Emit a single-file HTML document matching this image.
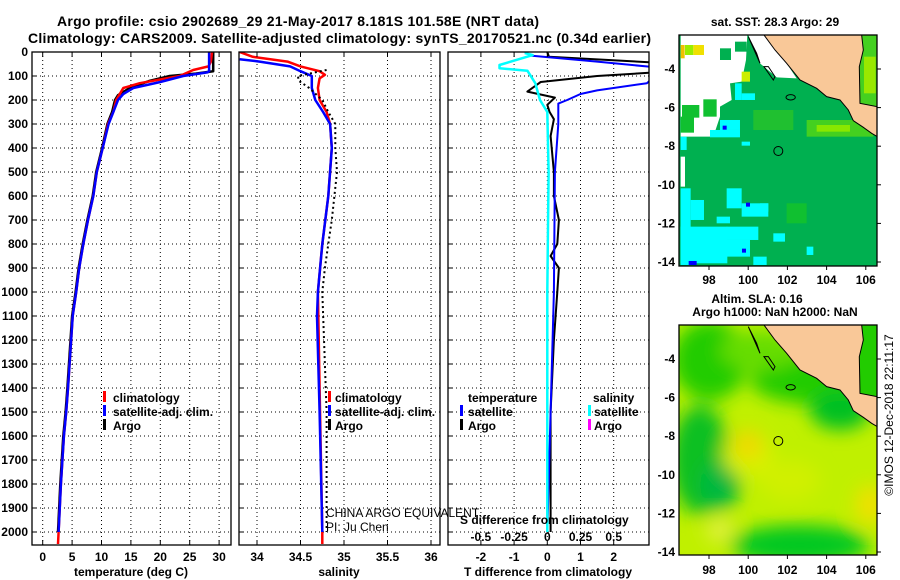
<!DOCTYPE html>
<html><head><meta charset="utf-8">
<style>
html,body{margin:0;padding:0;background:#fff;}
svg{display:block;font-family:"Liberation Sans",Arial,sans-serif;}
.t{font-weight:bold;font-size:12px;fill:#000;}
.ttl{font-weight:bold;font-size:14px;fill:#000;}
</style></head>
<body>
<svg id="fig" width="900" height="580" viewBox="0 0 900 580" xmlns="http://www.w3.org/2000/svg">
<defs>
<clipPath id="c1"><rect x="32" y="52" width="199" height="493"/></clipPath>
<clipPath id="c2"><rect x="239" y="52" width="201" height="493"/></clipPath>
<clipPath id="c3"><rect x="448" y="52" width="201" height="493"/></clipPath>
<clipPath id="cm1"><rect x="679" y="35" width="198" height="231"/></clipPath>
<clipPath id="cm2"><rect x="679" y="325" width="198" height="230"/></clipPath>
<filter id="blur" x="-50%" y="-50%" width="200%" height="200%"><feGaussianBlur stdDeviation="9"/></filter>
</defs>
<text class="ttl" x="57" y="26" textLength="482">Argo profile: csio 2902689_29 21-May-2017 8.181S 101.58E (NRT data)</text>
<text class="ttl" x="28" y="43" textLength="623">Climatology: CARS2009. Satellite-adjusted climatology: synTS_20170521.nc (0.34d earlier)</text>

<g id="grid"></g>
<g id="series"></g>
<g id="axes"></g>

<!-- legends -->
<g>
<rect x="103" y="391" width="3" height="11" fill="#f00"/>
<text class="t" x="113" y="402">climatology</text>
<rect x="103" y="405" width="3" height="11" fill="#00f"/>
<text class="t" x="113" y="416">satellite-adj. clim.</text>
<rect x="103" y="419" width="3" height="11" fill="#000"/>
<text class="t" x="113" y="430">Argo</text>
</g>
<g>
<rect x="328" y="391" width="3" height="11" fill="#f00"/>
<text class="t" x="335" y="402">climatology</text>
<rect x="328" y="405" width="3" height="11" fill="#00f"/>
<text class="t" x="335" y="416">satellite-adj. clim.</text>
<rect x="328" y="419" width="3" height="11" fill="#000"/>
<text class="t" x="335" y="430">Argo</text>
</g>
<g>
<text class="t" x="468" y="402">temperature</text>
<rect x="460" y="405" width="3" height="11" fill="#00f"/>
<text class="t" x="468" y="416">satellite</text>
<rect x="460" y="419" width="3" height="11" fill="#000"/>
<text class="t" x="468" y="430">Argo</text>
<text class="t" x="593" y="402">salinity</text>
<rect x="588" y="405" width="3" height="11" fill="#0ff"/>
<text class="t" x="594" y="416">satellite</text>
<rect x="588" y="419" width="3" height="11" fill="#f0f"/>
<text class="t" x="594" y="430">Argo</text>
</g>
<text x="326" y="517" font-size="12" fill="#000">CHINA ARGO EQUIVALENT</text>
<text x="326" y="531" font-size="12" fill="#000">PI: Ju Chen</text>
<text class="t" x="460" y="524">S difference from climatology</text>

<text class="t" x="131" y="576" text-anchor="middle">temperature (deg C)</text>
<text class="t" x="339" y="576" text-anchor="middle">salinity</text>
<text class="t" x="548" y="576" text-anchor="middle">T difference from climatology</text>

<!-- MAP 1: SST -->
<g>
<text class="t" x="775" y="26" text-anchor="middle">sat. SST: 28.3 Argo: 29</text>
<g clip-path="url(#cm1)">
<g transform="translate(660,0) scale(0.3333)">
<rect x="58" y="105" width="594" height="692" fill="#00b050"/>
<polygon fill="#fff" points="62,105 262,105 258,180 245,245 210,250 215,300 180,320 180,350 160,410 62,410"/>
<polygon fill="#fff" points="62,470 75,470 75,560 62,560"/>
<rect x="180" y="145" width="33" height="35" fill="#00b050"/>
<rect x="225" y="125" width="35" height="30" fill="#00b050"/>
<rect x="130" y="298" width="40" height="52" fill="#10c030"/>
<rect x="66" y="315" width="52" height="38" fill="#10c030"/>
<rect x="62" y="350" width="40" height="48" fill="#10c030"/>
<rect x="62" y="135" width="12" height="40" fill="#f0c000"/>
<rect x="75" y="135" width="25" height="30" fill="#99ee00"/>
<rect x="100" y="135" width="32" height="30" fill="#f0e000"/>
<rect x="245" y="215" width="25" height="30" fill="#ccee00"/>
<polygon fill="#fff" points="265,105 312,105 360,160 410,235 350,232 300,190"/>
<rect x="440" y="360" width="200" height="50" fill="#44d020"/>
<rect x="470" y="375" width="100" height="20" fill="#88e800"/>
<rect x="280" y="330" width="120" height="60" fill="#20c030"/>
<rect x="380" y="610" width="60" height="60" fill="#10c030"/>
<g fill="#00ffff">
<rect x="62" y="565" width="30" height="230"/><rect x="92" y="600" width="40" height="60"/>
<rect x="62" y="680" width="140" height="110"/><rect x="150" y="720" width="120" height="50"/>
<rect x="200" y="565" width="45" height="60"/><rect x="245" y="610" width="80" height="40"/>
<rect x="200" y="680" width="95" height="40"/><rect x="340" y="700" width="35" height="25"/>
<rect x="225" y="250" width="20" height="50"/><rect x="245" y="280" width="40" height="20"/>
<rect x="150" y="390" width="90" height="22"/><rect x="180" y="360" width="60" height="30"/>
<rect x="62" y="410" width="18" height="40"/><rect x="300" y="610" width="25" height="25"/>
<rect x="280" y="770" width="40" height="25"/><rect x="440" y="740" width="20" height="25"/>
<rect x="245" y="425" width="25" height="12"/><rect x="170" y="650" width="40" height="20"/>
</g>
<rect x="188" y="377" width="12" height="12" fill="#0000ff"/>
<rect x="258" y="608" width="12" height="12" fill="#0000ff"/>
<rect x="246" y="746" width="12" height="12" fill="#0000ff"/>
<rect x="86" y="783" width="24" height="12" fill="#0000ff"/>
<polygon fill="#f9c898" stroke="#000" stroke-width="3" points="312,105 652,105 652,410 635,400 610,382 580,362 565,330 540,300 500,290 470,265 420,240 380,190 345,150"/>
<polygon fill="#44d020" stroke="#000" stroke-width="3" points="605,105 652,105 652,320 600,310 598,200 610,150"/>
<rect x="612" y="170" width="35" height="110" fill="#99e800"/>
<polygon fill="none" stroke="#000" stroke-width="3" points="265,110 290,160 300,190"/>
<polygon fill="none" stroke="#000" stroke-width="3" points="312,200 340,240 345,230 325,200"/>
<ellipse cx="392" cy="292" rx="14" ry="8" fill="none" stroke="#000" stroke-width="3"/>
</g>
</g>
<circle cx="778.3" cy="151" r="4.5" fill="none" stroke="#000" stroke-width="1"/>
<rect x="679" y="35" width="198" height="231" fill="none" stroke="#000" stroke-width="1.3"/>
</g>

<!-- MAP 2: SLA -->
<g>
<text class="t" x="757" y="303" text-anchor="middle">Altim. SLA: 0.16</text>
<text class="t" x="775" y="316" text-anchor="middle">Argo h1000: NaN h2000: NaN</text>
<g clip-path="url(#cm2)">
<rect x="679" y="325" width="198" height="230" fill="#c0f000"/>
<g filter="url(#blur)">
<ellipse cx="710" cy="360" rx="38" ry="40" fill="#22cc00"/>
<ellipse cx="700" cy="460" rx="30" ry="55" fill="#10c020"/>
<ellipse cx="720" cy="485" rx="20" ry="25" fill="#00b840"/>
<ellipse cx="800" cy="545" rx="70" ry="20" fill="#00c820"/>
<ellipse cx="820" cy="380" rx="70" ry="25" fill="#20cc00"/>
<ellipse cx="840" cy="410" rx="30" ry="20" fill="#00c020"/>
<ellipse cx="760" cy="350" rx="40" ry="20" fill="#66dd00"/>
<ellipse cx="748" cy="455" rx="25" ry="22" fill="#d8f000"/>
<ellipse cx="748" cy="444" rx="14" ry="14" fill="#f0d800"/>
<ellipse cx="870" cy="505" rx="14" ry="20" fill="#f0e000"/>
<ellipse cx="720" cy="530" rx="14" ry="12" fill="#e0f040"/>
<ellipse cx="790" cy="480" rx="30" ry="20" fill="#d0f000"/>
</g>
<g transform="translate(660,290) scale(0.3333)">
<polygon fill="#f9c898" stroke="#000" stroke-width="3" points="312,105 652,105 652,410 635,400 610,382 580,362 565,330 540,300 500,290 470,265 420,240 380,190 345,150"/>
<polygon fill="#22cc00" stroke="#000" stroke-width="3" points="605,105 652,105 652,320 600,310 598,200 610,150"/>
<polygon fill="none" stroke="#000" stroke-width="3" points="265,110 290,160 300,190"/>
<polygon fill="none" stroke="#000" stroke-width="3" points="312,200 340,240 345,230 325,200"/>
<ellipse cx="392" cy="292" rx="14" ry="8" fill="none" stroke="#000" stroke-width="3"/>
</g>
</g>
<circle cx="778.3" cy="441" r="4.5" fill="none" stroke="#000" stroke-width="1"/>
<rect x="679" y="325" width="198" height="230" fill="none" stroke="#000" stroke-width="1.3"/>
</g>
<g id="mapaxes"></g>
<text x="893" y="415" font-size="12" fill="#000" text-anchor="middle" transform="rotate(-90 893 415)">©IMOS 12-Dec-2018 22:11:17</text>

<script>
// ---------- data ----------
const depthTicks = [0,100,200,300,400,500,600,700,800,900,1000,1100,1200,1300,1400,1500,1600,1700,1800,1900,2000];
const tempTicks = [0,5,10,15,20,25,30];
const salTicks = [34,34.5,35,35.5,36];
const salTickLabels = ["34","34.5","35","35.5","36"];
const tdiffTicks = [-2,-1,0,1,2];
const sdiffTicks = [-0.5,-0.25,0,0.25,0.5];
const sdiffTickLabels = ["-0.5","-0.25","0","0.25","0.5"];

const tempClimDepth = [0,40,60,75,100,130,150,200,250,300,400,500,600,700,800,900,1000,1100,1400,1500,1600,1800,2000,2050];
const tempClimValue = [28.8,28.6,28.2,25.6,23.3,16.5,13.7,12.5,12,11.1,10.2,9.2,8.6,7.7,6.9,6.2,5.7,5.1,4.3,4.0,3.6,3.1,2.7,2.6];
const tempArgoDepth = [0,80,90,100,120,150,180,200,250,300,400,500,600,700,800,900,1000,1100,1400,1500,1600,1800,2000];
const tempArgoValue = [29,29,26,21.6,18.2,14.8,12.8,12.3,11.8,11.0,10.1,9.1,8.5,7.6,6.8,6.1,5.6,5.0,4.2,3.9,3.5,3.0,2.6];
const tempSatDepth = [0,80,85,100,125,150,175,200,250,300,400,500,600,700,800,900,1000,1100,1400,1500,1600,1800,2000];
const tempSatValue = [28.3,28.3,28,23.9,20,15.4,13.7,12.8,12,11.2,10.2,9.2,8.6,7.7,6.9,6.2,5.7,5.1,4.3,4.0,3.6,3.1,2.7];

const salClimDepth = [0,20,40,60,80,95,110,150,200,250,300,400,600,800,1000,1400,2000,2050];
const salClimValue = [33.8,33.95,34.35,34.5,34.72,34.78,34.72,34.7,34.72,34.8,34.84,34.86,34.82,34.75,34.7,34.72,34.75,34.75];
const salSatDepth = [30,40,60,80,100,150,200,250,300,400,600,800,1000,1100,1500,2000];
const salSatValue = [33.8,34.03,34.38,34.5,34.63,34.63,34.67,34.76,34.84,34.86,34.82,34.75,34.7,34.69,34.72,34.75];
const salArgoDepth = [75,100,120,150,200,250,300,400,500,700,800,900,1000,1500,2000];
const salArgoValue = [34.8,34.47,34.48,34.6,34.75,34.82,34.9,34.9,34.92,34.86,34.82,34.78,34.75,34.8,34.8];

const tdiffSatDepth = [0,15,40,67,130,160,175,200,215,300,500,1000,1500,2000];
const tdiffSatValue = [-0.67,-0.5,1.5,3.5,3.0,1.5,1.0,0.6,0.33,0.33,0.23,0.2,0.1,0.0];
const tdiffArgoDepth = [0,20,46,83,100,125,145,165,190,220,250,280,350,500,600,700,800,850,900,1000,1200,1500,2000];
const tdiffArgoValue = [0,0.05,3.5,3.5,1.5,-0.2,-0.4,-0.6,0.23,0,0.07,0.2,0.1,0.2,0.2,0.35,0.3,0.1,0.35,0.3,0.2,0.1,0.1];
const sdiffSatDepth = [4,13,54,68,78,130,200,250,500,1000,2000];
const sdiffSatValue = [-0.17,-0.11,-0.36,-0.36,-0.15,-0.09,-0.055,0,0.01,0,0];

const mapLonTicks = [98,100,102,104,106];
const mapLatTicks = [-4,-6,-8,-10,-12,-14];

// ---------- axis functions ----------
const yD = d => 52 + d*0.24;
const xT = v => 42.7 + v*5.88;
const xS = v => 257 + (v-34)*87;
const xTd = v => 547.3 + v*33.2;
const xSd = v => 547.3 + v*132.8;
const mX = lon => 709 + (lon-98)*19.6;
const mY = lat => 69 + (-4-lat)*19.3;

const NS = "http://www.w3.org/2000/svg";
const grid = document.getElementById('grid');
const series = document.getElementById('series');
const axes = document.getElementById('axes');
const mapaxes = document.getElementById('mapaxes');
function mk(tag, attrs, parent){ const e=document.createElementNS(NS,tag); for(const k in attrs) e.setAttribute(k,attrs[k]); parent.appendChild(e); return e; }

const panels = [
 {x0:32,x1:231,clip:'c1',name:'temperature'},
 {x0:239,x1:440,clip:'c2',name:'salinity'},
 {x0:448,x1:649,clip:'c3',name:'difference'}
];
const dot = {stroke:'#000','stroke-width':1,'stroke-dasharray':'1,3'};
panels.forEach((p,i)=>{
  depthTicks.forEach(d=>{
    if(d===0) return;
    const l = mk('line',Object.assign({x1:p.x0,x2:p.x1,y1:yD(d),y2:yD(d)},dot),grid);
    
    
    const t1 = mk('line',{x1:p.x0,x2:p.x0+4,y1:yD(d),y2:yD(d),stroke:'#000'},axes);
    
    
  });
  const frame = mk('rect',{x:p.x0,y:52,width:p.x1-p.x0,height:493,fill:'none',stroke:'#000','stroke-width':1.3},axes);
  
  
});
function vgrid(vals, fx, labels, ly, pname){
  vals.forEach((v,i)=>{
    const x = fx(v);
    const l = mk('line',Object.assign({x1:x,x2:x,y1:52,y2:545},dot),grid);
    
    
    const tk = mk('line',{x1:x,x2:x,y1:545,y2:540,stroke:'#000'},axes);
    
    
    const tt = mk('line',{x1:x,x2:x,y1:52,y2:57,stroke:'#000'},axes);
    
    
    const t = mk('text',{x:x,y:ly,'text-anchor':'middle',class:'t'},axes);
    t.textContent = labels[i];
    
    
  });
}
vgrid(tempTicks, xT, tempTicks.map(String), 561, 'temperature');
vgrid(salTicks, xS, salTickLabels, 561, 'salinity');
vgrid(tdiffTicks, xTd, tdiffTicks.map(String), 561, 't-difference');
sdiffTicks.forEach((v,i)=>{
  const t = mk('text',{x:xSd(v),y:541,'text-anchor':'middle',class:'t'},axes);
  t.textContent = sdiffTickLabels[i];
  
  
});
depthTicks.forEach(d=>{
  const t = mk('text',{x:28,y:yD(d)+4,'text-anchor':'end',class:'t'},axes);
  t.textContent = String(d);
  
  
});

function line(dep, val, fx, color, clip, name, extra){
  const pts = dep.map((d,i)=>fx(val[i]).toFixed(1)+','+yD(d).toFixed(1)).join(' ');
  const a = Object.assign({points:pts,fill:'none',stroke:color,'stroke-width':2.5,'stroke-linejoin':'round','clip-path':'url(#'+clip+')'},extra||{});
  const e = mk('polyline',a,series);
  
  
}
line(tempArgoDepth,tempArgoValue,xT,'#000','c1','temperature-argo-line');
line(tempClimDepth,tempClimValue,xT,'#f00','c1','temperature-climatology-line');
line(tempSatDepth,tempSatValue,xT,'#00f','c1','temperature-satellite-line');
line(salClimDepth,salClimValue,xS,'#f00','c2','salinity-climatology-line');
line(salSatDepth,salSatValue,xS,'#00f','c2','salinity-satellite-line');
line(salArgoDepth,salArgoValue,xS,'#000','c2','salinity-argo-line',{'stroke-width':2,'stroke-dasharray':'2,3'});
line(tdiffArgoDepth,tdiffArgoValue,xTd,'#000','c3','t-difference-argo-line',{'stroke-width':2});
line(tdiffSatDepth,tdiffSatValue,xTd,'#00f','c3','t-difference-satellite-line',{'stroke-width':2});
line(sdiffSatDepth,sdiffSatValue,xSd,'#0ff','c3','s-difference-satellite-line');

// map axes
[0,290].forEach((off,k)=>{
  const nm = k===0 ? 'sst-map' : 'sla-map';
  mapLonTicks.forEach(lon=>{
    const t = mk('text',{x:mX(lon),y:off+284,'text-anchor':'middle',class:'t'},mapaxes);
    t.textContent = String(lon);
    
    
    const tk = mk('line',{x1:mX(lon),x2:mX(lon),y1:off+(k===0?266:265),y2:off+(k===0?270:269),stroke:'#000'},mapaxes);
    
    
  });
  mapLatTicks.forEach(lat=>{
    const t = mk('text',{x:675,y:mY(lat)+off+4,'text-anchor':'end',class:'t'},mapaxes);
    t.textContent = String(lat);
    
    
    const tk = mk('line',{x1:877,x2:881,y1:mY(lat)+off,y2:mY(lat)+off,stroke:'#000'},mapaxes);
    
    
  });
});
</script>
</svg>
</body></html>
